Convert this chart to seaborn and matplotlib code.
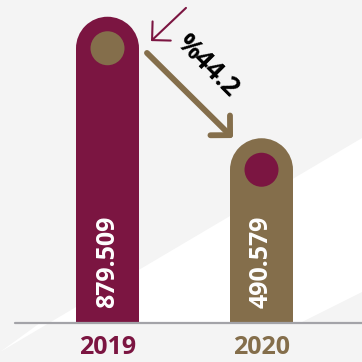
import matplotlib
matplotlib.use("Agg")
import matplotlib.pyplot as plt
import seaborn as sns
from matplotlib.patches import Ellipse, Polygon, FancyArrowPatch

years = ["2019", "2020"]
values = [879.509, 490.579]
change_label = "%44.2"

maroon = "#7B1541"
tan = "#846E4B"
bar_colors = [maroon, tan]
dot_colors = [tan, maroon]

sns.set_style("white")
plt.rcParams["font.family"] = ["Open Sans", "DejaVu Sans"]

W = H = 362
fig = plt.figure(figsize=(W / 100, H / 100), dpi=100)
fig.patch.set_facecolor("#F4F4F4")


def fx(x, y):
    # pixel position (origin top-left) -> figure fraction
    return (x / W, 1 - y / H)


ax = fig.add_axes([0, 0, 1, 1])
ax.set_facecolor("none")

# faint white diagonal band in the background
band = Polygon([fx(0, 352), fx(362, 138), fx(362, 292), fx(300, 323), fx(40, 323)],
               closed=True, transform=fig.transFigure, facecolor="white",
               edgecolor="none", zorder=0)
ax.add_patch(band)

px_per_x = 154.0     # pixels between bar centres
px_per_y = 0.3124    # pixels per value unit
base_px = 39.0       # baseline height from bottom
bar_w = 63 / px_per_x

sns.barplot(x=years, y=values, hue=years, palette=bar_colors, width=bar_w,
            saturation=1, legend=False, ax=ax, zorder=2)

ax.set_xlim(-107.5 / px_per_x, (W - 107.5) / px_per_x)
ax.set_ylim(-base_px / px_per_y, (H - base_px) / px_per_y)
ax.axis("off")

bars = [p for p in ax.patches if p is not band]
for i, (p, v) in enumerate(zip(bars, values)):
    cx = p.get_x() + p.get_width() / 2
    p.set_edgecolor("none")
    # rounded cap
    ax.add_patch(Ellipse((cx, v), bar_w, 63 / px_per_y, color=bar_colors[i],
                         lw=0, zorder=2))
    # inner dot
    ax.add_patch(Ellipse((cx, v), 34 / px_per_x, 34 / px_per_y,
                         color=dot_colors[i], lw=0, zorder=3))
    ax.text(cx, 61 / px_per_y, f"{v:.3f}", rotation=90, ha="center",
            va="center", color="white", fontsize=18, fontweight="bold",
            zorder=4)
    ax.text(cx, -24 / px_per_y, years[i], ha="center", va="center",
            color=bar_colors[i], fontsize=18, fontweight="bold")

ax.axhline(0, xmin=15 / W, xmax=1, color="#A3A3A8", lw=1.6, zorder=3)

# change arrows
big = FancyArrowPatch(fx(145, 51), fx(235, 140), transform=fig.transFigure,
                      arrowstyle="->,head_length=1.0,head_width=1.0",
                      mutation_scale=10, color=tan, lw=4.2, capstyle="round",
                      joinstyle="round", zorder=5)
small = FancyArrowPatch(fx(188, 6), fx(149, 43), transform=fig.transFigure,
                        arrowstyle="->,head_length=0.95,head_width=0.95",
                        mutation_scale=10, color=maroon, lw=1.5, zorder=5)
ax.add_patch(big)
ax.add_patch(small)

ax.text(*fx(208, 66), change_label, transform=fig.transFigure, rotation=-45,
        ha="center", va="center", fontsize=19, fontweight="bold",
        color="black", rotation_mode="anchor", zorder=6)

fig.savefig("out.png", dpi=100, facecolor=fig.get_facecolor())
